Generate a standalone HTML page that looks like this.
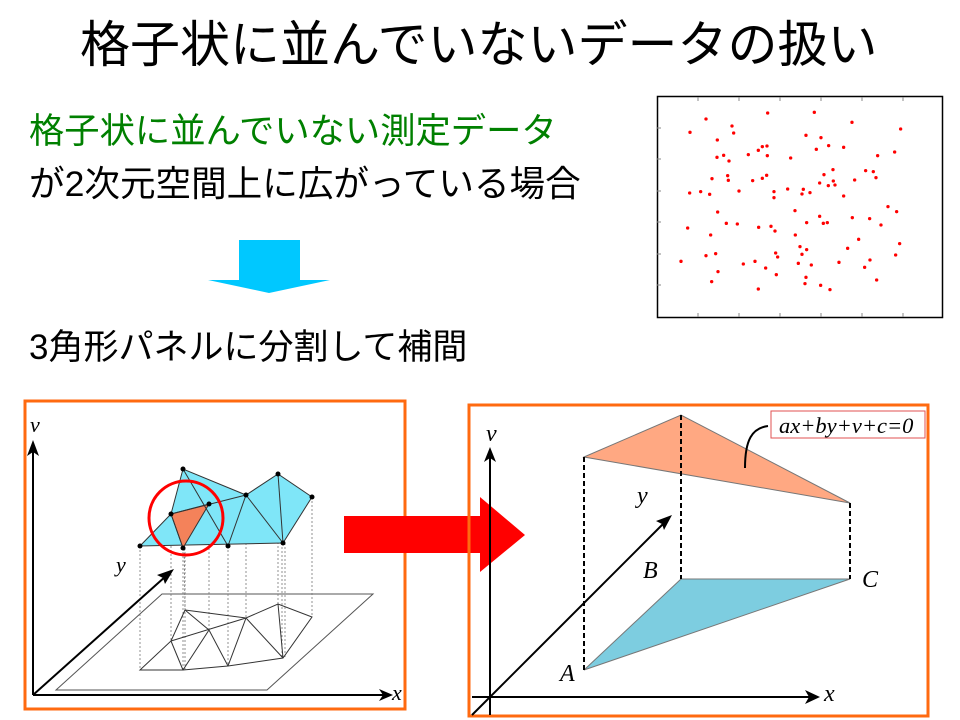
<!DOCTYPE html>
<html><head><meta charset="utf-8"><style>
body{margin:0;width:960px;height:720px;background:#fff;overflow:hidden;position:relative;font-family:"Liberation Sans","Noto Sans CJK JP",sans-serif}
.t{position:absolute;white-space:nowrap;line-height:1}
</style></head><body>
<div class="t" style="left:80px;top:20px;font-size:50px;color:#000">格子状に並んでいないデータの扱い</div>
<div class="t" style="left:29px;top:114px;font-size:35.3px;color:#008000">格子状に並んでいない測定データ</div>
<div class="t" style="left:29px;top:167px;font-size:35.6px;color:#000">が2次元空間上に広がっている場合</div>
<div class="t" style="left:29px;top:330px;font-size:35px;color:#000">3角形パネルに分割して補間</div>
<svg width="960" height="720" style="position:absolute;left:0;top:0" font-family="Liberation Serif,serif" font-style="italic">
<polygon points="239,240 300,240 300,280 330,280 269,293 208,280 239,280" fill="#00c8ff"/>
<rect x="657.5" y="96.5" width="285" height="221" fill="#fff" stroke="#000" stroke-width="1.5"/>
<g stroke="#888" stroke-width="1">
<line x1="657" y1="128" x2="661" y2="128"/><line x1="657" y1="159" x2="661" y2="159"/><line x1="657" y1="191" x2="661" y2="191"/><line x1="657" y1="222" x2="661" y2="222"/><line x1="657" y1="254" x2="661" y2="254"/><line x1="657" y1="285" x2="661" y2="285"/>
<line x1="698" y1="97" x2="698" y2="101"/><line x1="739" y1="97" x2="739" y2="101"/><line x1="780" y1="97" x2="780" y2="101"/><line x1="821" y1="97" x2="821" y2="101"/><line x1="862" y1="97" x2="862" y2="101"/><line x1="903" y1="97" x2="903" y2="101"/>
<line x1="698" y1="313" x2="698" y2="317"/><line x1="739" y1="313" x2="739" y2="317"/><line x1="780" y1="313" x2="780" y2="317"/><line x1="821" y1="313" x2="821" y2="317"/><line x1="862" y1="313" x2="862" y2="317"/><line x1="903" y1="313" x2="903" y2="317"/>
</g>
<g fill="#f00" transform="translate(650,90) scale(0.3333)">
<circle cx="353" cy="69" r="5"/><circle cx="493" cy="67" r="5"/><circle cx="168" cy="87" r="5"/><circle cx="606" cy="97" r="5"/><circle cx="246" cy="108" r="5"/><circle cx="120" cy="127" r="5"/><circle cx="251" cy="129" r="5"/><circle cx="468" cy="136" r="5"/><circle cx="513" cy="143" r="5"/><circle cx="752" cy="117" r="5"/><circle cx="202" cy="150" r="5"/><circle cx="536" cy="167" r="5"/><circle cx="581" cy="172" r="5"/><circle cx="337" cy="170" r="5"/><circle cx="351" cy="168" r="5"/><circle cx="325" cy="181" r="5"/><circle cx="499" cy="178" r="5"/><circle cx="734" cy="186" r="5"/><circle cx="295" cy="194" r="5"/><circle cx="221" cy="196" r="5"/><circle cx="201" cy="202" r="5"/><circle cx="352" cy="197" r="5"/><circle cx="422" cy="204" r="5"/><circle cx="683" cy="197" r="5"/><circle cx="237" cy="213" r="5"/><circle cx="549" cy="239" r="5"/><circle cx="522" cy="254" r="5"/><circle cx="647" cy="242" r="5"/><circle cx="670" cy="245" r="5"/><circle cx="233" cy="257" r="5"/><circle cx="186" cy="266" r="5"/><circle cx="235" cy="271" r="5"/><circle cx="308" cy="272" r="5"/><circle cx="337" cy="265" r="5"/><circle cx="350" cy="256" r="5"/><circle cx="678" cy="263" r="5"/><circle cx="614" cy="270" r="5"/><circle cx="550" cy="273" r="5"/><circle cx="509" cy="279" r="5"/><circle cx="535" cy="287" r="5"/><circle cx="555" cy="285" r="5"/><circle cx="119" cy="309" r="5"/><circle cx="152" cy="305" r="5"/><circle cx="179" cy="313" r="5"/><circle cx="267" cy="303" r="5"/><circle cx="372" cy="305" r="5"/><circle cx="372" cy="323" r="5"/><circle cx="413" cy="297" r="5"/><circle cx="460" cy="298" r="5"/><circle cx="456" cy="312" r="5"/><circle cx="480" cy="308" r="5"/><circle cx="581" cy="318" r="5"/><circle cx="714" cy="350" r="5"/><circle cx="740" cy="365" r="5"/><circle cx="203" cy="366" r="5"/><circle cx="435" cy="362" r="5"/><circle cx="509" cy="379" r="5"/><circle cx="607" cy="383" r="5"/><circle cx="659" cy="386" r="5"/><circle cx="113" cy="414" r="5"/><circle cx="229" cy="400" r="5"/><circle cx="262" cy="402" r="5"/><circle cx="326" cy="412" r="5"/><circle cx="363" cy="409" r="5"/><circle cx="375" cy="423" r="5"/><circle cx="470" cy="398" r="5"/><circle cx="520" cy="400" r="5"/><circle cx="532" cy="398" r="5"/><circle cx="693" cy="405" r="5"/><circle cx="182" cy="435" r="5"/><circle cx="436" cy="435" r="5"/><circle cx="626" cy="448" r="5"/><circle cx="749" cy="461" r="5"/><circle cx="450" cy="470" r="5"/><circle cx="470" cy="479" r="5"/><circle cx="593" cy="475" r="5"/><circle cx="168" cy="497" r="5"/><circle cx="197" cy="491" r="5"/><circle cx="377" cy="489" r="5"/><circle cx="383" cy="501" r="5"/><circle cx="456" cy="493" r="5"/><circle cx="737" cy="495" r="5"/><circle cx="660" cy="510" r="5"/><circle cx="93" cy="514" r="5"/><circle cx="280" cy="522" r="5"/><circle cx="315" cy="514" r="5"/><circle cx="445" cy="520" r="5"/><circle cx="484" cy="525" r="5"/><circle cx="567" cy="517" r="5"/><circle cx="347" cy="534" r="5"/><circle cx="644" cy="532" r="5"/><circle cx="204" cy="545" r="5"/><circle cx="379" cy="554" r="5"/><circle cx="468" cy="562" r="5"/><circle cx="185" cy="575" r="5"/><circle cx="465" cy="581" r="5"/><circle cx="512" cy="586" r="5"/><circle cx="680" cy="570" r="5"/><circle cx="325" cy="597" r="5"/><circle cx="540" cy="599" r="5"/>
</g>
<rect x="25" y="401" width="380" height="308" fill="#fff" stroke="#ff6a10" stroke-width="3"/>
<polygon points="162,594 373,594 267,690 56,690" fill="none" stroke="#555" stroke-width="1"/>
<g stroke="#777" stroke-width="0.8" stroke-dasharray="2,2">
<line x1="183" y1="469" x2="185" y2="610"/><line x1="171" y1="514" x2="171" y2="641"/><line x1="209" y1="504" x2="209" y2="630"/><line x1="140" y1="546" x2="140" y2="670"/><line x1="183" y1="548" x2="183" y2="670"/><line x1="185" y1="548" x2="185" y2="670"/><line x1="228" y1="546" x2="228" y2="666"/><line x1="246" y1="495" x2="246" y2="618"/><line x1="278" y1="474" x2="278" y2="604"/><line x1="282" y1="543" x2="282" y2="658"/><line x1="285" y1="543" x2="285" y2="658"/><line x1="312" y1="497" x2="312" y2="617"/>
</g>
<g stroke="#333" stroke-width="1" fill="none">
<polyline points="185,610 246,618 278,604 312,617 283,658 228,666 183,670 140,670 171,641 185,610"/>
<line x1="185" y1="610" x2="209" y2="630"/><line x1="171" y1="641" x2="246" y2="618"/><line x1="209" y1="630" x2="228" y2="666"/><line x1="171" y1="641" x2="183" y2="670"/><line x1="209" y1="630" x2="183" y2="670"/><line x1="246" y1="618" x2="228" y2="666"/><line x1="246" y1="618" x2="283" y2="658"/><line x1="278" y1="604" x2="283" y2="658"/>
</g>
<polygon points="140,546 171,514 183,469 246,495 278,474 312,497 283,543 140,546" fill="#7fe6f8" stroke="#333" stroke-width="1"/>
<polygon points="171,514 209,504 183,548" fill="#f4825a" stroke="#333" stroke-width="1"/>
<g stroke="#333" stroke-width="1">
<line x1="183" y1="469" x2="228" y2="546"/><line x1="171" y1="514" x2="246" y2="495"/><line x1="171" y1="514" x2="183" y2="548"/><line x1="246" y1="495" x2="228" y2="546"/><line x1="246" y1="495" x2="283" y2="543"/><line x1="278" y1="474" x2="283" y2="543"/>
</g>
<g fill="#000"><circle cx="183" cy="469" r="2.5"/><circle cx="171" cy="514" r="2.5"/><circle cx="209" cy="504" r="2.5"/><circle cx="140" cy="546" r="2.5"/><circle cx="183" cy="548" r="2.5"/><circle cx="228" cy="546" r="2.5"/><circle cx="246" cy="495" r="2.5"/><circle cx="278" cy="474" r="2.5"/><circle cx="312" cy="497" r="2.5"/><circle cx="283" cy="543" r="2.5"/></g>
<circle cx="186" cy="518" r="37" fill="none" stroke="#f00" stroke-width="3"/>
<g stroke="#000" stroke-width="2" fill="#000">
<line x1="33" y1="695" x2="33" y2="450"/><polygon points="33,440 27,456 33,452 39,456" stroke="none"/>
<line x1="33" y1="695" x2="384" y2="695"/><polygon points="393,695 379,689 383,695 379,701" stroke="none"/>
<line x1="33" y1="695" x2="166" y2="576"/><polygon points="174,569 157,575 163,578 165,584" stroke="none"/>
</g>
<text x="30" y="432" font-size="22">v</text><text x="392" y="700" font-size="22">x</text><text x="116" y="572" font-size="22">y</text>
<polygon points="344,516 480,516 480,497 525,535 480,572 480,553 344,553" fill="#f00"/>
<rect x="469" y="405" width="459" height="311" fill="none" stroke="#ff6a10" stroke-width="3"/>
<polygon points="584,457 681,415 850,503" fill="#ffa882" stroke="#777" stroke-width="1"/>
<polygon points="584,670 681,579 850,579" fill="#7dcde0" stroke="#777" stroke-width="1"/>
<g stroke="#000" stroke-width="2" stroke-dasharray="5,3">
<line x1="584" y1="457" x2="584" y2="670"/><line x1="681" y1="415" x2="681" y2="579"/><line x1="850" y1="503" x2="850" y2="579"/>
</g>
<g stroke="#000" stroke-width="2" fill="#000">
<line x1="490" y1="715" x2="490" y2="455"/><polygon points="490,447 484,462 490,458 496,462" stroke="none"/>
<line x1="472" y1="697" x2="812" y2="697"/><polygon points="820,697 805,690 809,697 805,704" stroke="none"/>
<line x1="472" y1="715" x2="665" y2="522"/><polygon points="672,515 656,521 662,524 664,530" stroke="none"/>
</g>
<path d="M768,426 C752,428 745,440 745,468" fill="none" stroke="#000" stroke-width="2"/>
<rect x="771" y="411" width="154" height="27" fill="#fff" stroke="#e05050" stroke-width="1"/>
<text x="779" y="433" font-size="22.5">ax+by+v+c=0</text>
<text x="486" y="441" font-size="24">v</text><text x="824" y="701" font-size="24">x</text><text x="637" y="503" font-size="24">y</text>
<text x="560" y="681" font-size="24">A</text><text x="643" y="578" font-size="24">B</text><text x="862" y="587" font-size="24">C</text>
</svg>
</body></html>
